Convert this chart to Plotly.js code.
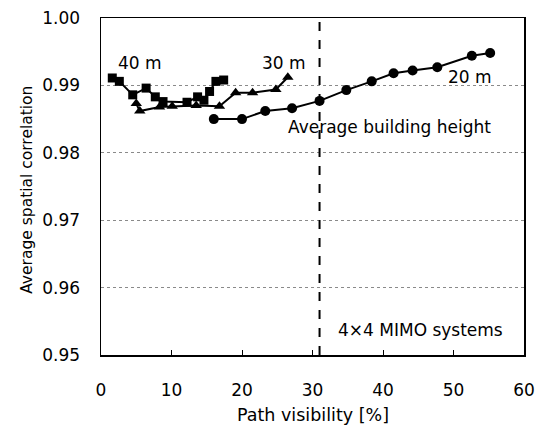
<!DOCTYPE html>
<html>
<head>
<meta charset="utf-8">
<script src="https://cdn.plot.ly/plotly-3.0.1.min.js"></script>
<style>html,body{margin:0;padding:0;background:#fff;}#chart{width:540px;height:426px;}</style>
</head>
<body>
<div id="chart"></div>
<script>
// 40 m series (squares)
const x40 = [1.6, 2.6, 4.5, 6.4, 7.7, 8.8, 12.2, 13.7, 14.6, 15.4, 16.3, 17.4];
const y40 = [0.9911, 0.9906, 0.9886, 0.9896, 0.9883, 0.9876, 0.9875, 0.9883, 0.9878, 0.9891, 0.9906, 0.9908];
// 30 m series (triangles)
const x30 = [5.0, 5.5, 8.3, 10.1, 13.5, 16.8, 19.1, 21.5, 24.8, 26.5];
const y30 = [0.9873, 0.9862, 0.9868, 0.9869, 0.9870, 0.9869, 0.9889, 0.9889, 0.9894, 0.9912];
// 20 m series (circles)
const x20 = [16.0, 20.0, 23.3, 27.1, 31.0, 34.8, 38.4, 41.5, 44.2, 47.7, 52.6, 55.2];
const y20 = [0.9850, 0.9850, 0.9862, 0.9866, 0.9877, 0.9893, 0.9906, 0.9918, 0.9922, 0.9927, 0.9944, 0.9948];
// average building height marker
const avgHeightX = 31;
const xTicks = [0, 10, 20, 30, 40, 50, 60];
const yTicks = [0.95, 0.96, 0.97, 0.98, 0.99, 1.00];

const font = "DejaVu Sans, Verdana, sans-serif";
const line = {color: "#000", width: 2};

const traces = [
  {x: x40, y: y40, mode: "lines+markers", line: line,
   marker: {symbol: "square", size: 9, color: "#000"}, showlegend: false},
  {x: x30, y: y30, mode: "lines+markers", line: line,
   marker: {symbol: "triangle-up", size: 10, color: "#000"}, showlegend: false},
  {x: x20, y: y20, mode: "lines+markers", line: line,
   marker: {symbol: "circle", size: 10, color: "#000"}, showlegend: false}
];

const layout = {
  width: 540, height: 426,
  margin: {l: 101, r: 16, t: 18, b: 71},
  paper_bgcolor: "#fff", plot_bgcolor: "#fff",
  font: {family: font, size: 17, color: "#000"},
  xaxis: {
    range: [0, 60], tickvals: xTicks, ticktext: xTicks.map(String),
    showgrid: false, zeroline: false,
    showline: true, linecolor: "#000", linewidth: 1.5, mirror: true,
    ticks: "inside", ticklen: 5, tickcolor: "#000",
    tickfont: {size: 17}, ticklabelstandoff: 19
  },
  yaxis: {
    range: [0.95, 1.00], tickvals: yTicks, ticktext: yTicks.map(v => v.toFixed(2)),
    showgrid: true, gridcolor: "#8a8a8a", griddash: "3px,3px", gridwidth: 1,
    zeroline: false,
    showline: true, linecolor: "#000", linewidth: 1.5, mirror: true,
    ticks: "", tickfont: {size: 17}, ticklabelstandoff: 16
  },
  shapes: [
    {type: "line", xref: "x", yref: "paper", x0: avgHeightX, x1: avgHeightX, y0: 0, y1: 1,
     line: {color: "#000", width: 2, dash: "dash"}}
  ],
  annotations: [
    {x: -0.175, y: 0.49, xref: "paper", yref: "paper", xanchor: "center", yanchor: "middle",
     text: "Average spatial correlation", textangle: -90, showarrow: false, font: {size: 15.5}},
    {x: 0.501, y: -0.178, xref: "paper", yref: "paper", xanchor: "center", yanchor: "middle",
     text: "Path visibility [%]", showarrow: false, font: {size: 17.5}},
    {x: 5.57, y: 0.99332, xref: "x", yref: "y", text: "40 m", showarrow: false},
    {x: 25.9, y: 0.99332, xref: "x", yref: "y", text: "30 m", showarrow: false},
    {x: 52.4, y: 0.99125, xref: "x", yref: "y", text: "20 m", showarrow: false},
    {x: 40.9, y: 0.98383, xref: "x", yref: "y", text: "Average building height", showarrow: false},
    {x: 45.3, y: 0.95371, xref: "x", yref: "y", text: "4×4 MIMO systems", showarrow: false}
  ]
};

Plotly.newPlot("chart", traces, layout, {staticPlot: true, displayModeBar: false});
</script>
</body>
</html>
